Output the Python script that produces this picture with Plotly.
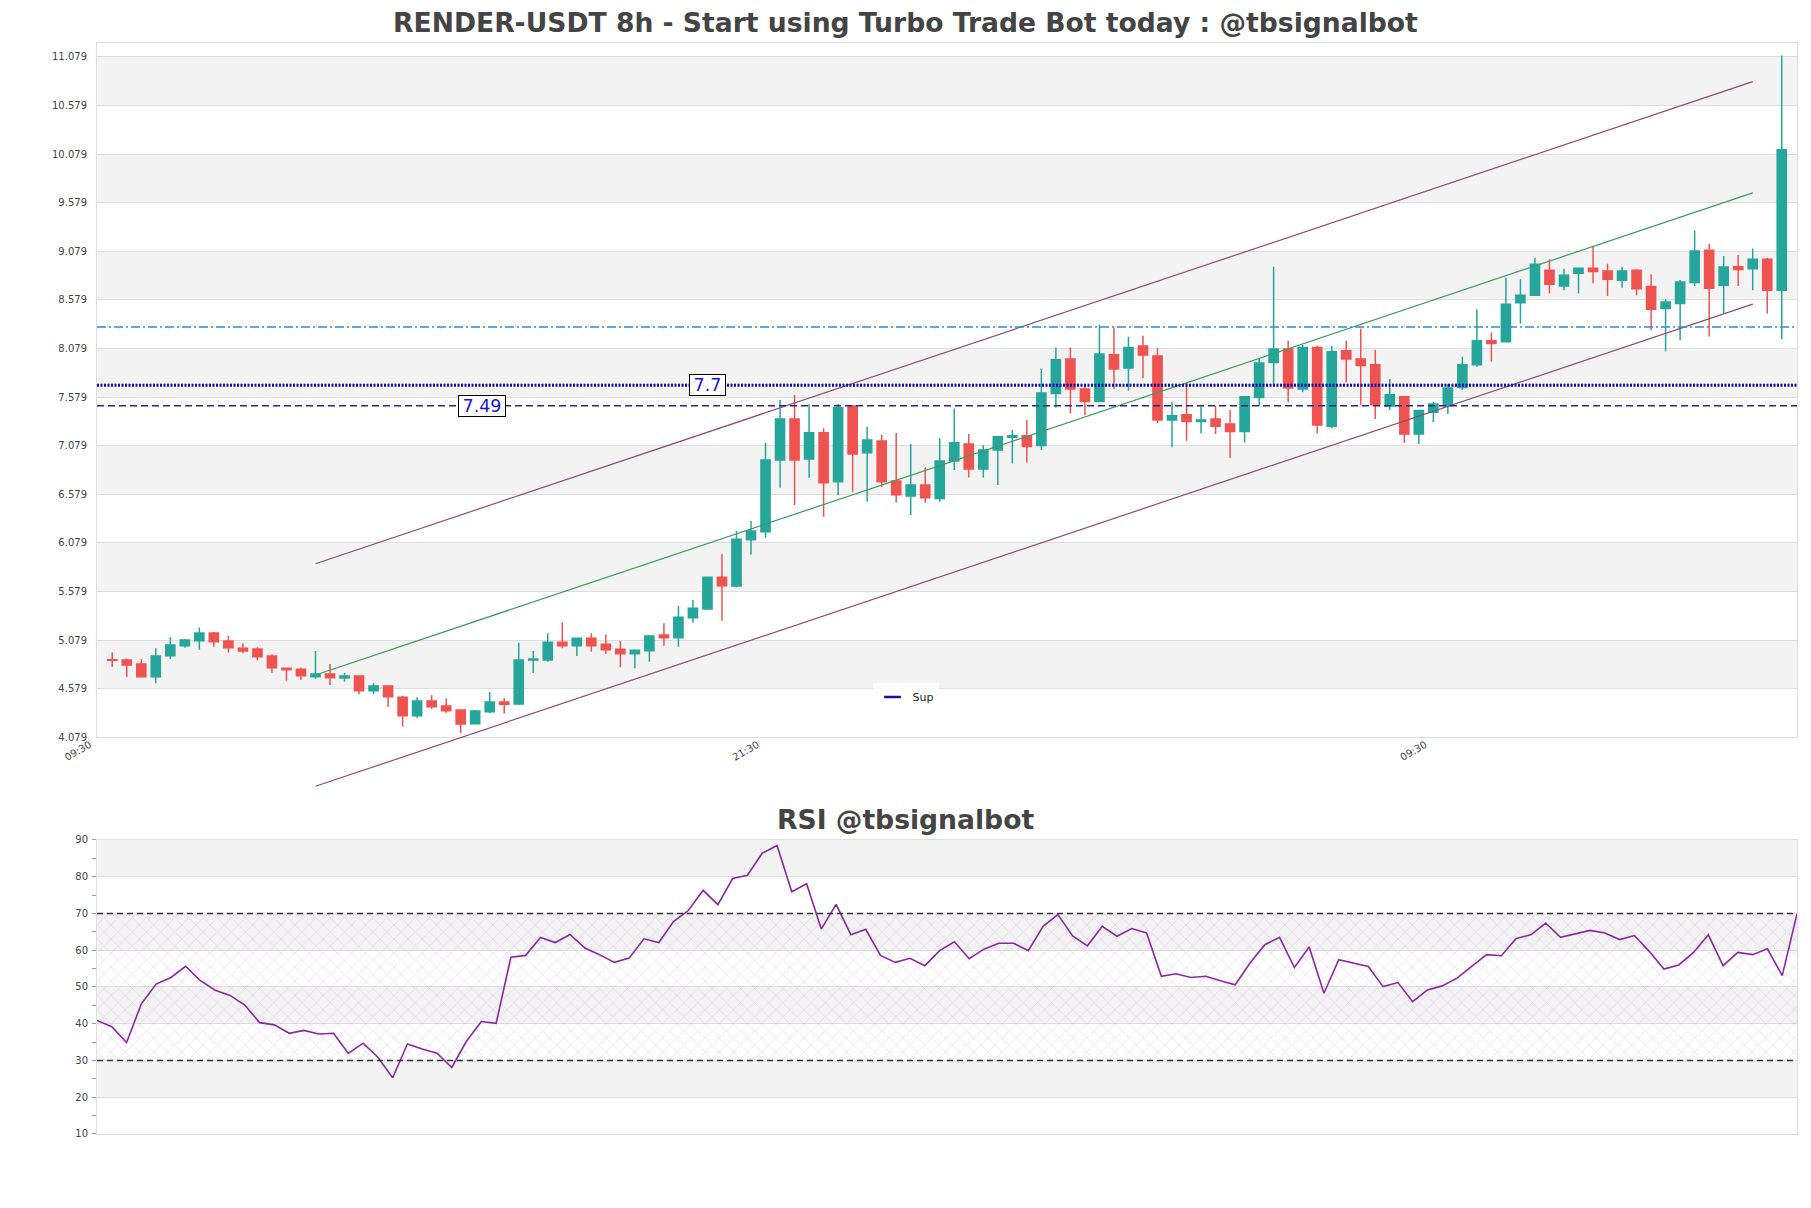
import plotly.graph_objects as go

# ---------------- data ----------------
open_ = [4.876, 4.874, 4.833, 4.703, 4.919, 5.022, 5.073, 5.152, 5.070, 4.994,
         4.988, 4.916, 4.789, 4.778, 4.703, 4.730, 4.689, 4.710, 4.559, 4.607,
         4.490, 4.302, 4.453, 4.401, 4.360, 4.219, 4.343, 4.442, 4.422, 4.874,
         4.874, 5.056, 5.022, 5.097, 5.036, 4.984, 4.939, 4.970, 5.131, 5.104,
         5.310, 5.399, 5.725, 5.636, 6.112, 6.195, 6.932, 7.354, 6.942, 7.213,
         6.709, 7.487, 7.007, 7.127, 6.716, 6.561, 6.675, 6.537, 6.922, 7.096,
         6.839, 7.034, 7.165, 7.182, 7.082, 7.617, 7.970, 7.662, 7.535, 8.015,
         7.878, 8.104, 8.001, 7.343, 7.398, 7.329, 7.353, 7.302, 7.226, 7.576,
         7.936, 8.073, 7.662, 8.090, 7.278, 8.056, 7.970, 7.912, 7.487, 7.583,
         7.200, 7.422, 7.491, 7.679, 7.912, 8.158, 8.148, 8.551, 8.627, 8.883,
         8.722, 8.852, 8.904, 8.876, 8.781, 8.883, 8.716, 8.490, 8.541, 8.757,
         9.089, 8.729, 8.921, 8.900, 8.996, 8.678]
high = [4.953, 4.891, 4.881, 4.994, 5.108, 5.090, 5.210, 5.162, 5.121, 5.046,
        5.005, 4.933, 4.795, 4.795, 4.967, 4.833, 4.744, 4.712, 4.634, 4.614,
        4.507, 4.490, 4.511, 4.480, 4.362, 4.360, 4.545, 4.480, 5.053, 4.967,
        5.149, 5.262, 5.107, 5.149, 5.138, 5.070, 4.984, 5.131, 5.252, 5.430,
        5.492, 5.732, 5.965, 6.205, 6.304, 7.110, 7.549, 7.601, 7.508, 7.258,
        7.508, 7.498, 7.275, 7.189, 7.213, 7.096, 6.856, 7.155, 7.463, 7.199,
        7.086, 7.182, 7.240, 7.343, 7.868, 8.090, 8.090, 7.696, 8.324, 8.296,
        8.200, 8.210, 8.084, 7.532, 7.730, 7.480, 7.490, 7.446, 7.585, 7.970,
        8.920, 8.159, 8.118, 8.108, 8.108, 8.159, 8.286, 8.067, 7.765, 7.585,
        7.450, 7.532, 7.713, 7.994, 8.483, 8.244, 8.808, 8.791, 9.013, 8.996,
        8.900, 8.911, 9.133, 8.952, 8.921, 8.894, 8.842, 8.586, 8.784, 9.294,
        9.157, 9.030, 9.041, 9.109, 9.013, 11.093]
low = [4.806, 4.703, 4.700, 4.634, 4.885, 5.001, 4.981, 5.011, 4.950, 4.943,
       4.868, 4.744, 4.662, 4.669, 4.682, 4.617, 4.651, 4.524, 4.524, 4.394,
       4.188, 4.281, 4.374, 4.332, 4.120, 4.216, 4.326, 4.326, 4.411, 4.744,
       4.857, 4.994, 4.915, 4.960, 4.936, 4.799, 4.789, 4.857, 5.022, 5.011,
       5.258, 5.399, 5.279, 5.622, 5.961, 6.133, 6.647, 6.469, 6.750, 6.349,
       6.572, 6.606, 6.503, 6.651, 6.493, 6.366, 6.493, 6.503, 6.829, 6.753,
       6.753, 6.674, 6.897, 6.907, 7.034, 7.473, 7.411, 7.394, 7.525, 7.662,
       7.645, 7.772, 7.309, 7.062, 7.130, 7.206, 7.199, 6.952, 7.113, 7.490,
       7.696, 7.525, 7.628, 7.206, 7.261, 7.730, 7.501, 7.353, 7.446, 7.108,
       7.097, 7.320, 7.405, 7.652, 7.891, 7.946, 8.141, 8.336, 8.620, 8.644,
       8.678, 8.644, 8.750, 8.620, 8.705, 8.627, 8.267, 8.049, 8.165, 8.722,
       8.202, 8.438, 8.722, 8.678, 8.438, 8.175]
close = [4.872, 4.823, 4.703, 4.916, 5.029, 5.080, 5.152, 5.063, 5.001, 4.967,
         4.909, 4.795, 4.775, 4.713, 4.730, 4.693, 4.710, 4.559, 4.607, 4.497,
         4.302, 4.453, 4.394, 4.353, 4.216, 4.350, 4.442, 4.418, 4.874, 4.885,
         5.056, 5.022, 5.097, 5.022, 4.981, 4.939, 4.974, 5.121, 5.104, 5.313,
         5.406, 5.725, 5.639, 6.116, 6.201, 6.932, 7.354, 6.932, 7.213, 6.699,
         7.470, 6.994, 7.138, 6.709, 6.575, 6.675, 6.544, 6.922, 7.110, 6.839,
         7.034, 7.171, 7.182, 7.072, 7.621, 7.964, 7.662, 7.535, 8.022, 7.868,
         8.090, 8.012, 7.343, 7.388, 7.329, 7.343, 7.278, 7.226, 7.583, 7.929,
         8.073, 7.672, 8.090, 7.292, 8.046, 7.970, 7.905, 7.501, 7.604, 7.200,
         7.440, 7.508, 7.672, 7.912, 8.158, 8.131, 8.534, 8.627, 8.945, 8.740,
         8.832, 8.904, 8.870, 8.791, 8.876, 8.695, 8.483, 8.558, 8.764, 9.082,
         8.699, 8.917, 8.893, 8.996, 8.678, 10.125]

rsi = [40.9, 39.2, 34.9, 45.4, 50.8, 52.6, 55.6, 51.7, 49.1, 47.7,
       45.1, 40.3, 39.7, 37.4, 38.2, 37.2, 37.4, 31.9, 34.7, 30.9,
       25.3, 34.5, 33.1, 32.0, 28.1, 35.3, 40.6, 40.1, 58.1, 58.6,
       63.5, 62.1, 64.3, 60.6, 58.8, 56.7, 57.9, 63.1, 62.1, 67.8,
       70.8, 76.3, 72.4, 79.5, 80.4, 86.4, 88.5, 75.9, 78.1, 65.8,
       72.5, 64.2, 65.7, 58.6, 56.7, 57.8, 55.8, 59.9, 62.3, 57.7,
       60.3, 61.9, 61.9, 59.9, 66.5, 69.7, 63.9, 61.2, 66.5, 63.8,
       65.9, 64.7, 52.9, 53.6, 52.6, 52.9, 51.7, 50.6, 56.5, 61.5,
       63.5, 55.3, 60.9, 48.3, 57.4, 56.5, 55.6, 50.1, 51.2, 46.0,
       49.2, 50.3, 52.4, 55.6, 58.8, 58.5, 63.2, 64.2, 67.4, 63.5,
       64.5, 65.4, 64.7, 62.9, 64.0, 59.7, 54.9, 56.0, 59.4, 64.2,
       55.8, 59.4, 58.8, 60.4, 53.1, 69.9]

price_ticks = [4.079, 4.579, 5.079, 5.579, 6.079, 6.579, 7.079, 7.579,
               8.079, 8.579, 9.079, 9.579, 10.079, 10.579, 11.079]
price_top = 11.222
rsi_ticks = [10, 20, 30, 40, 50, 60, 70, 80, 90]
rsi_levels = [30, 70]

x_tick_pos = [-1, 45, 91]
x_tick_labels = ["09:30", "21:30", "09:30"]

# regression channel (start / end candle index, prices)
channel_x = [14, 113]
channel_upper = [5.865, 10.825]
channel_mid = [4.72, 9.68]
channel_lower = [3.575, 8.535]

sup_level = 7.7
level_mid = 7.49
level_res = 8.30
sup_label_x = 41
mid_label_x = 25.5

title_main = "RENDER-USDT 8h - Start using Turbo Trade Bot today : @tbsignalbot"
title_rsi = "RSI @tbsignalbot"

# ---------------- figure ----------------
n = len(close)
idx = list(range(n))

W, H = 1811, 1208
ML, MR, MT, MB = 97, 14, 43, 74
fig_center = (W / 2 - ML) / (W - ML - MR)   # figure centre in paper units

UP = "#26a69a"
DOWN = "#ef5350"
GRID = "#dedede"
BAND = "#f3f3f3"

fig = go.Figure()

fig.add_trace(go.Candlestick(
    x=idx, open=open_, high=high, low=low, close=close,
    increasing=dict(line=dict(color=UP, width=1.5), fillcolor=UP),
    decreasing=dict(line=dict(color=DOWN, width=1.5), fillcolor=DOWN),
    showlegend=False, xaxis="x", yaxis="y", hoverinfo="skip"))

fig.add_trace(go.Scatter(
    x=[0, n - 1, n - 1, 0, 0],
    y=[rsi_levels[0], rsi_levels[0], rsi_levels[1], rsi_levels[1], rsi_levels[0]],
    fill="toself", mode="none",
    fillpattern=dict(shape="x", fgcolor="rgba(200,150,220,0.85)",
                     bgcolor="rgba(0,0,0,0)", size=10, solidity=0.12),
    showlegend=False, xaxis="x2", yaxis="y2", hoverinfo="skip"))

fig.add_trace(go.Scatter(
    x=idx, y=rsi, mode="lines", line=dict(color="#8b2a9f", width=1.6),
    showlegend=False, xaxis="x2", yaxis="y2"))

fig.add_trace(go.Scatter(
    x=[None], y=[None], mode="markers", name="Sup",
    marker=dict(symbol="line-ew", size=12, color="#14149a",
                line=dict(width=2.5, color="#14149a")),
    xaxis="x", yaxis="y", showlegend=True))

shapes = []
# zebra bands
for a, b in zip(price_ticks[1::2], price_ticks[2::2]):
    shapes.append(dict(type="rect", xref="x domain", yref="y", x0=0, x1=1, y0=a, y1=b,
                       fillcolor=BAND, line=dict(width=0), layer="below"))
for a, b in zip(rsi_ticks[1::2], rsi_ticks[2::2]):
    shapes.append(dict(type="rect", xref="x2 domain", yref="y2", x0=0, x1=1, y0=a, y1=b,
                       fillcolor=BAND, line=dict(width=0), layer="below"))

y_lo, y_hi = price_ticks[0], price_top


def frac(p):
    return (p - y_lo) / (y_hi - y_lo)


for vals, col in [(channel_upper, "#8d4d6e"), (channel_mid, "#3a9d5d"), (channel_lower, "#8d4d6e")]:
    shapes.append(dict(type="line", xref="x", yref="y domain",
                       x0=channel_x[0], x1=channel_x[1], y0=frac(vals[0]), y1=frac(vals[1]),
                       line=dict(color=col, width=1.2)))

shapes.append(dict(type="line", xref="x domain", yref="y", x0=0, x1=1, y0=level_res, y1=level_res,
                   line=dict(color="#2a8fd0", width=1.3, dash="9px,3px,2px,3px")))
shapes.append(dict(type="line", xref="x domain", yref="y", x0=0, x1=1, y0=sup_level, y1=sup_level,
                   line=dict(color="#0a0ab0", width=3, dash="2px,1.5px")))
shapes.append(dict(type="line", xref="x domain", yref="y", x0=0, x1=1, y0=level_mid, y1=level_mid,
                   line=dict(color="#25259a", width=1.5, dash="7px,4px")))
for lv in rsi_levels:
    shapes.append(dict(type="line", xref="x2 domain", yref="y2", x0=0, x1=1, y0=lv, y1=lv,
                       line=dict(color="#333333", width=1.5, dash="6px,4px")))

main_dom = [0.3636, 1.0]
rsi_dom = [0.0, 0.2695]

PAD = "\u2009"
annotations = [
    dict(text="<b>" + title_main + "</b>", xref="paper", yref="paper", x=fig_center, y=main_dom[1],
         xanchor="center", yanchor="bottom", showarrow=False, yshift=3,
         font=dict(size=26.6, color="#444444")),
    dict(text="<b>" + title_rsi + "</b>", xref="paper", yref="paper", x=fig_center, y=rsi_dom[1],
         xanchor="center", yanchor="bottom", showarrow=False, yshift=3,
         font=dict(size=26.6, color="#444444")),
    dict(text=PAD + str(level_mid) + PAD, xref="x", yref="y", x=mid_label_x, y=level_mid,
         showarrow=False, font=dict(size=17.5, color="#1414e0"), bgcolor="white",
         bordercolor="black", borderwidth=1, borderpad=0),
    dict(text=PAD + str(sup_level) + PAD, xref="x", yref="y", x=sup_label_x, y=sup_level,
         showarrow=False, font=dict(size=17.5, color="#1414e0"), bgcolor="white",
         bordercolor="black", borderwidth=1, borderpad=0),
]

axis_common = dict(showline=True, linecolor=GRID, linewidth=1, mirror=True, zeroline=False)

fig.update_layout(
    width=W, height=H, autosize=False,
    margin=dict(l=ML, r=MR, t=MT, b=MB),
    paper_bgcolor="white", plot_bgcolor="white",
    font=dict(family="DejaVu Sans", size=10, color="#444444"),
    boxgap=0.1, boxgroupgap=0.3,
    xaxis=dict(domain=[0, 1], anchor="y", range=[-1.05, 116.05],
               rangeslider=dict(visible=False), showgrid=False,
               tickmode="array", tickvals=x_tick_pos, ticktext=x_tick_labels,
               tickangle=-30, tickfont=dict(size=10),
               ticklabelshift=-8, ticklabelstandoff=-3, **axis_common),
    yaxis=dict(domain=main_dom, anchor="x", range=[y_lo, y_hi],
               tickmode="array", tickvals=price_ticks,
               ticktext=["%.3f" % v for v in price_ticks],
               showgrid=True, gridcolor=GRID, tickfont=dict(size=10),
               ticklabelstandoff=7, **axis_common),
    xaxis2=dict(domain=[0, 1], anchor="y2", range=[0, n - 1], showticklabels=False,
                showgrid=False, **axis_common),
    yaxis2=dict(domain=rsi_dom, anchor="x2", range=[rsi_ticks[0], rsi_ticks[-1]],
                tickmode="array", tickvals=rsi_ticks, showgrid=True, gridcolor=GRID,
                ticks="outside", ticklen=4, tickcolor="#999999",
                minor=dict(tick0=0, dtick=5, ticks="outside", ticklen=4, tickcolor="#999999",
                           showgrid=False),
                tickfont=dict(size=10), ticklabelstandoff=2, **axis_common),
    showlegend=True,
    legend=dict(orientation="h", x=fig_center, xanchor="center", y=0.4005, yanchor="middle",
                bgcolor="rgba(255,255,255,0.85)", font=dict(size=11, color="#222222")),
    shapes=shapes,
    annotations=annotations,
)

fig.write_html("out.html")
